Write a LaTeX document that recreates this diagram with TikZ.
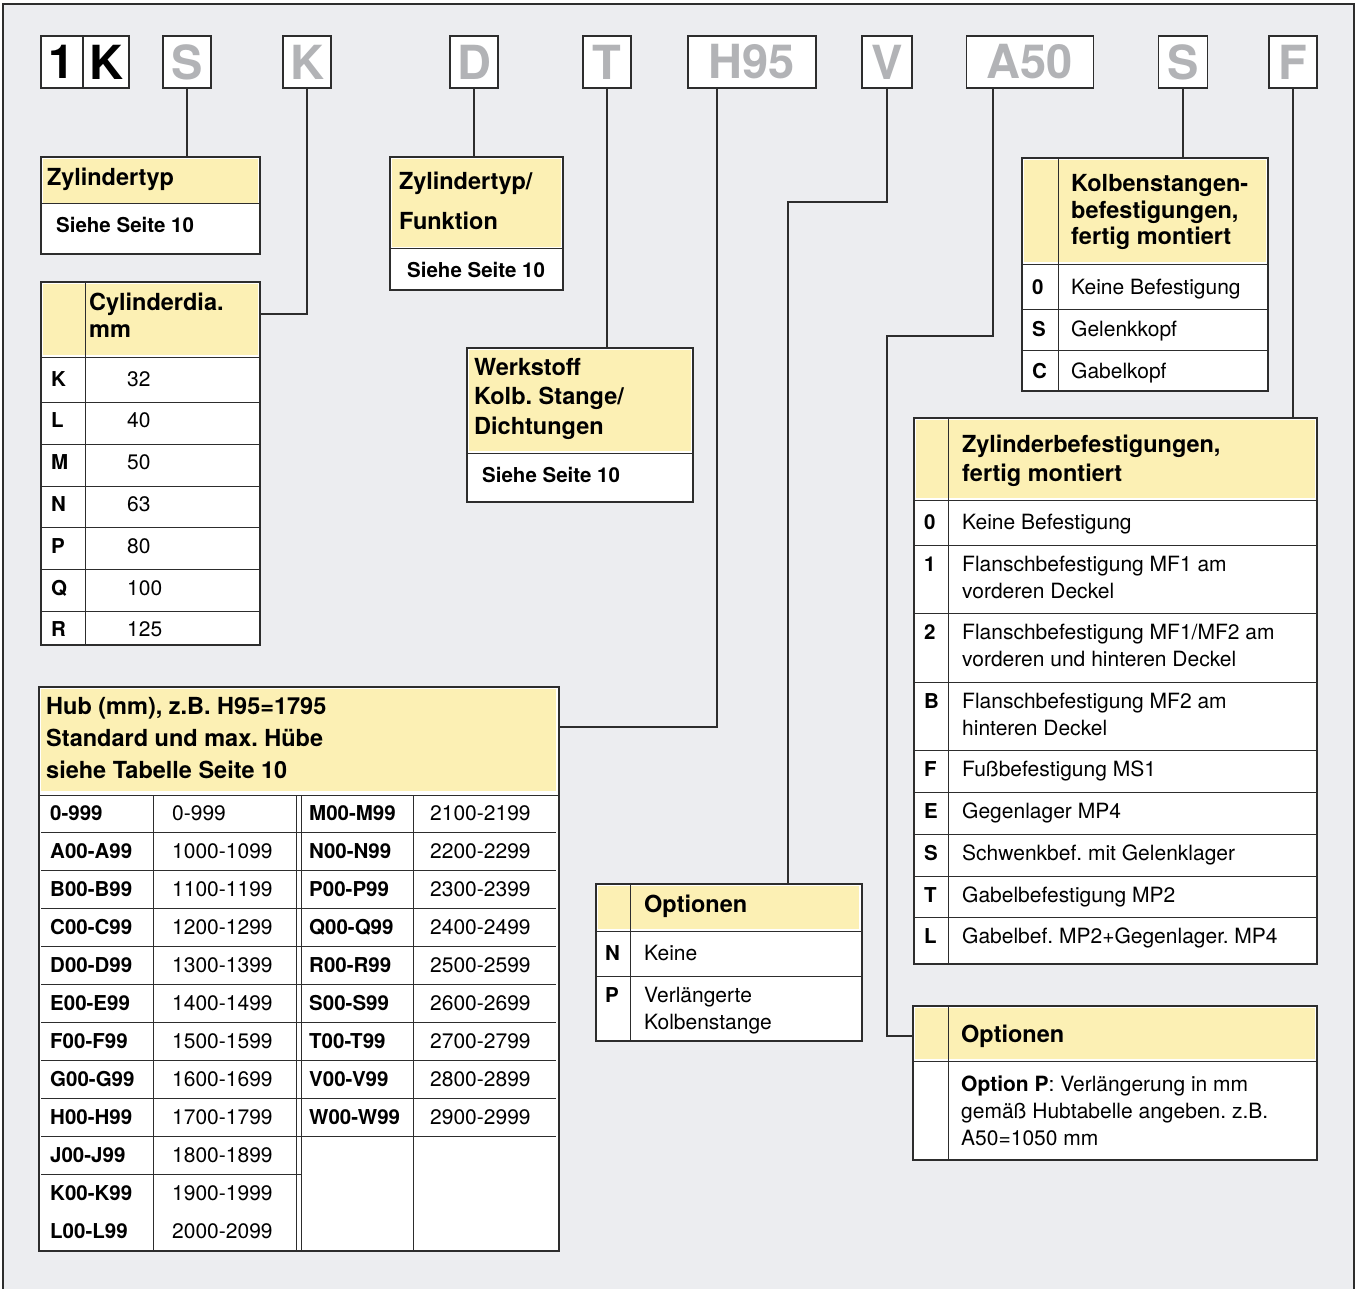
\documentclass[tikz,border=0pt]{standalone}
\usepackage{fontspec}
\setmainfont{TeX Gyre Heros}
\frenchspacing
\usetikzlibrary{positioning}
\definecolor{framegray}{RGB}{236,237,240}
\definecolor{headyellow}{RGB}{252,240,180}
\definecolor{rulegray}{RGB}{45,45,45}
\definecolor{codegray}{RGB}{178,179,182}

\begin{document}
\begin{tikzpicture}[x=1pt,y=-1pt,
  codebox/.style={draw=rulegray, fill=white, line width=1.4pt, minimum height=52pt, inner sep=0pt, outer sep=0pt, text=codegray, font=\fontsize{47}{47}\selectfont\bfseries},
  tablebox/.style={draw=rulegray, fill=white, line width=1.4pt, anchor=north west, inner sep=0pt, outer sep=0pt},
  headfill/.style={fill=headyellow},
  rowline/.style={draw=rulegray, line width=1pt},
  conn/.style={draw=rulegray, line width=1.3pt},
  headtext/.style={anchor=base west, inner sep=0pt, align=left, font=\fontsize{23.5}{27}\selectfont\bfseries},
  celltext/.style={anchor=base west, inner sep=0pt, align=left, font=\fontsize{21}{27}\selectfont},
  keytext/.style={anchor=base west, inner sep=0pt, font=\fontsize{20.5}{27}\selectfont\bfseries}]

\useasboundingbox (0,0) rectangle (1356,1289);
\fill[white] (0,0) rectangle (1356,1289);
\draw[rulegray, fill=framegray, line width=1.5pt] (3,4) rectangle (1354,1310);

\node (c1) [codebox, text=black, minimum width=42pt] at (62,62) {1};
\node (cK1) [codebox, text=black, minimum width=46pt, right=0pt of c1] {K};
\node (cS1) [codebox, minimum width=48pt] at (187,62) {S};
\node (cK2) [codebox, minimum width=48pt] at (307,62) {K};
\node (cD) [codebox, minimum width=48pt] at (474,62) {D};
\node (cT) [codebox, minimum width=48pt] at (607,62) {T};
\node (cH) [codebox, minimum width=128pt] at (752,62) {H95};
\node (cV) [codebox, minimum width=50pt] at (887,62) {V};
\node (cA) [codebox, minimum width=127pt] at (1030,62) {A50};
\node (cS2) [codebox, minimum width=49pt] at (1183,62) {S};
\node (cF) [codebox, minimum width=48pt] at (1293,62) {F};

\node (typ) [tablebox, minimum width=219pt, minimum height=97pt] at (41,157) {};
\node (dia) [tablebox, minimum width=219pt, minimum height=363pt] at (41,282) {};
\node (fkt) [tablebox, minimum width=173pt, minimum height=133pt] at (390,157) {};
\node (wst) [tablebox, minimum width=226pt, minimum height=154pt] at (467,348) {};
\node (hub) [tablebox, minimum width=520pt, minimum height=564pt] at (39,687) {};
\node (opt1) [tablebox, minimum width=266pt, minimum height=157pt] at (596,884) {};
\node (kst) [tablebox, minimum width=246pt, minimum height=233pt] at (1022,158) {};
\node (zbf) [tablebox, minimum width=403pt, minimum height=546pt] at (914,418) {};
\node (opt2) [tablebox, minimum width=404pt, minimum height=154pt] at (913,1006) {};

\fill[headfill] (43,159) rectangle (258,203);
\fill[headfill] (43,284) rectangle (258,355);
\fill[headfill] (392,159) rectangle (561,247);
\fill[headfill] (469,350) rectangle (691,451);
\fill[headfill] (41,689) rectangle (556,791);
\fill[headfill] (598,886) rectangle (859,929);
\fill[headfill] (1024,160) rectangle (1266,262);
\fill[headfill] (916,420) rectangle (1315,498);
\fill[headfill] (915,1008) rectangle (1315,1059);

\draw[rowline] (41,204) -- (260,204);
\draw[rowline] (41,357) -- (260,357) (85,282) -- (85,645);
\foreach \y in {402,444,486,527,569,611}
  \draw[rowline] (41,\y) -- (260,\y);
\draw[rowline] (390,249) -- (563,249);
\draw[rowline] (467,453) -- (693,453);
\draw[rowline] (39,795) -- (559,795);
\foreach \x in {153,296,301,413}
  \draw[rowline] (\x,795) -- (\x,1251);
\foreach \y in {832,870,...,1174}
  \draw[rowline] (41,\y) -- (301,\y);
\foreach \y in {832,870,...,1136}
  \draw[rowline] (301,\y) -- (556,\y);
\draw[rowline] (596,931) -- (862,931) (630,884) -- (630,1041) (596,976) -- (862,976);
\draw[rowline] (1022,264) -- (1268,264) (1058,158) -- (1058,391);
\foreach \y in {309,350}
  \draw[rowline] (1022,\y) -- (1268,\y);
\draw[rowline] (914,500) -- (1317,500) (948,418) -- (948,964);
\foreach \y in {545,613,682,750,792,834,876,917}
  \draw[rowline] (914,\y) -- (1317,\y);
\draw[rowline] (913,1061) -- (1317,1061) (948,1006) -- (948,1160);

\draw[conn] (cS1.south) -- (cS1.south |- typ.north);
\draw[conn] (cK2.south) |- ([yshift=-32pt]dia.north east);
\draw[conn] (cD.south) -- (cD.south |- fkt.north);
\draw[conn] (cT.south) -- (cT.south |- wst.north);
\draw[conn] ([xshift=-35pt]cH.south) |- ([yshift=-40pt]hub.north east);
\draw[conn] (cV.south) -- ++(0,114) -| ([xshift=-74pt]opt1.north east);
\draw[conn] ([xshift=-37pt]cA.south) |- ++(-106,248) |- ([yshift=-30pt]opt2.north west);
\draw[conn] (cS2.south) -- (cS2.south |- kst.north);
\draw[conn] (cF.south) -- (cF.south |- zbf.north);

\node (typ-h) [headtext] at (47,186) {Zylindertyp};
\node (typ-b) [keytext] at (56,233) {Siehe Seite 10};

\node (dia-h) [headtext] at (89,337) {Cylinderdia.\\mm};
\foreach \k/\v [count=\i from 0] in {K/32,L/40,M/50,N/63,P/80,Q/100,R/125}{
  \node (dia-k\i) [keytext] at (51,386+41.8*\i) {\k};
  \node (dia-v\i) [celltext] at (127,386+41.8*\i) {\v};
}

\node (fkt-h) [headtext, font=\fontsize{23.5}{40}\selectfont\bfseries] at (399,230) {Zylindertyp/\\Funktion};
\node (fkt-b) [keytext] at (407,277) {Siehe Seite 10};

\node (wst-h) [headtext, font=\fontsize{23.5}{29.5}\selectfont\bfseries] at (474,434) {Werkstoff\\Kolb. Stange/\\Dichtungen};
\node (wst-b) [keytext] at (482,482) {Siehe Seite 10};

\node (hub-h) [headtext, font=\fontsize{23.5}{32}\selectfont\bfseries] at (46,778) {Hub (mm), z.B. H95=1795\\Standard und max. Hübe\\siehe Tabelle Seite 10};
\foreach \k/\v [count=\i from 0] in {0-999/0-999, A00-A99/1000-1099, B00-B99/1100-1199, C00-C99/1200-1299, D00-D99/1300-1399, E00-E99/1400-1499, F00-F99/1500-1599, G00-G99/1600-1699, H00-H99/1700-1799, J00-J99/1800-1899, K00-K99/1900-1999, L00-L99/2000-2099}{
  \node (hub-lk\i) [keytext] at (50,820+38*\i) {\k};
  \node (hub-lv\i) [celltext] at (172,820+38*\i) {\v};
}
\foreach \k/\v [count=\i from 0] in {M00-M99/2100-2199, N00-N99/2200-2299, P00-P99/2300-2399, Q00-Q99/2400-2499, R00-R99/2500-2599, S00-S99/2600-2699, T00-T99/2700-2799, V00-V99/2800-2899, W00-W99/2900-2999}{
  \node (hub-rk\i) [keytext] at (309,820+38*\i) {\k};
  \node (hub-rv\i) [celltext] at (430,820+38*\i) {\v};
}

\node (opt1-h) [headtext] at (644,912) {Optionen};
\node (opt1-k1) [keytext] at (605,960) {N};
\node (opt1-v1) [celltext] at (644,960) {Keine};
\node (opt1-k2) [keytext] at (605,1002) {P};
\node (opt1-v2) [celltext] at (644,1029) {Verlängerte\\Kolbenstange};

\node (kst-h) [headtext, font=\fontsize{23.5}{26}\selectfont\bfseries] at (1071,244) {Kolbenstangen-\\befestigungen,\\fertig montiert};
\foreach \k/\v [count=\i from 0] in {0/Keine Befestigung, S/Gelenkkopf, C/Gabelkopf}{
  \node (kst-k\i) [keytext] at (1032,294+42*\i) {\k};
  \node (kst-v\i) [celltext] at (1071,294+42*\i) {\v};
}

\node (zbf-h) [headtext, font=\fontsize{23.5}{29}\selectfont\bfseries] at (962,481) {Zylinderbefestigungen,\\fertig montiert};
\foreach \k/\y/\n/\v in {0/529/0/Keine Befestigung, 1/571/1/{Flanschbefestigung MF1 am\\vorderen Deckel}, 2/639/1/{Flanschbefestigung MF1/MF2 am\\vorderen und hinteren Deckel}, B/708/1/{Flanschbefestigung MF2 am\\hinteren Deckel}, F/776/0/Fußbefestigung MS1, E/818/0/Gegenlager MP4, S/860/0/Schwenkbef. mit Gelenklager, T/902/0/Gabelbefestigung MP2, L/943/0/Gabelbef. MP2+Gegenlager. MP4}{
  \node (zbf-k\k) [keytext] at (924,\y) {\k};
  \node (zbf-v\k) [celltext] at (962,\y+27*\n) {\v};
}

\node (opt2-h) [headtext] at (961,1042) {Optionen};
\node (opt2-b) [celltext] at (961,1145) {\textbf{Option P}: Verlängerung in mm\\gemäß Hubtabelle angeben. z.B.\\A50=1050 mm};
\end{tikzpicture}
\end{document}
